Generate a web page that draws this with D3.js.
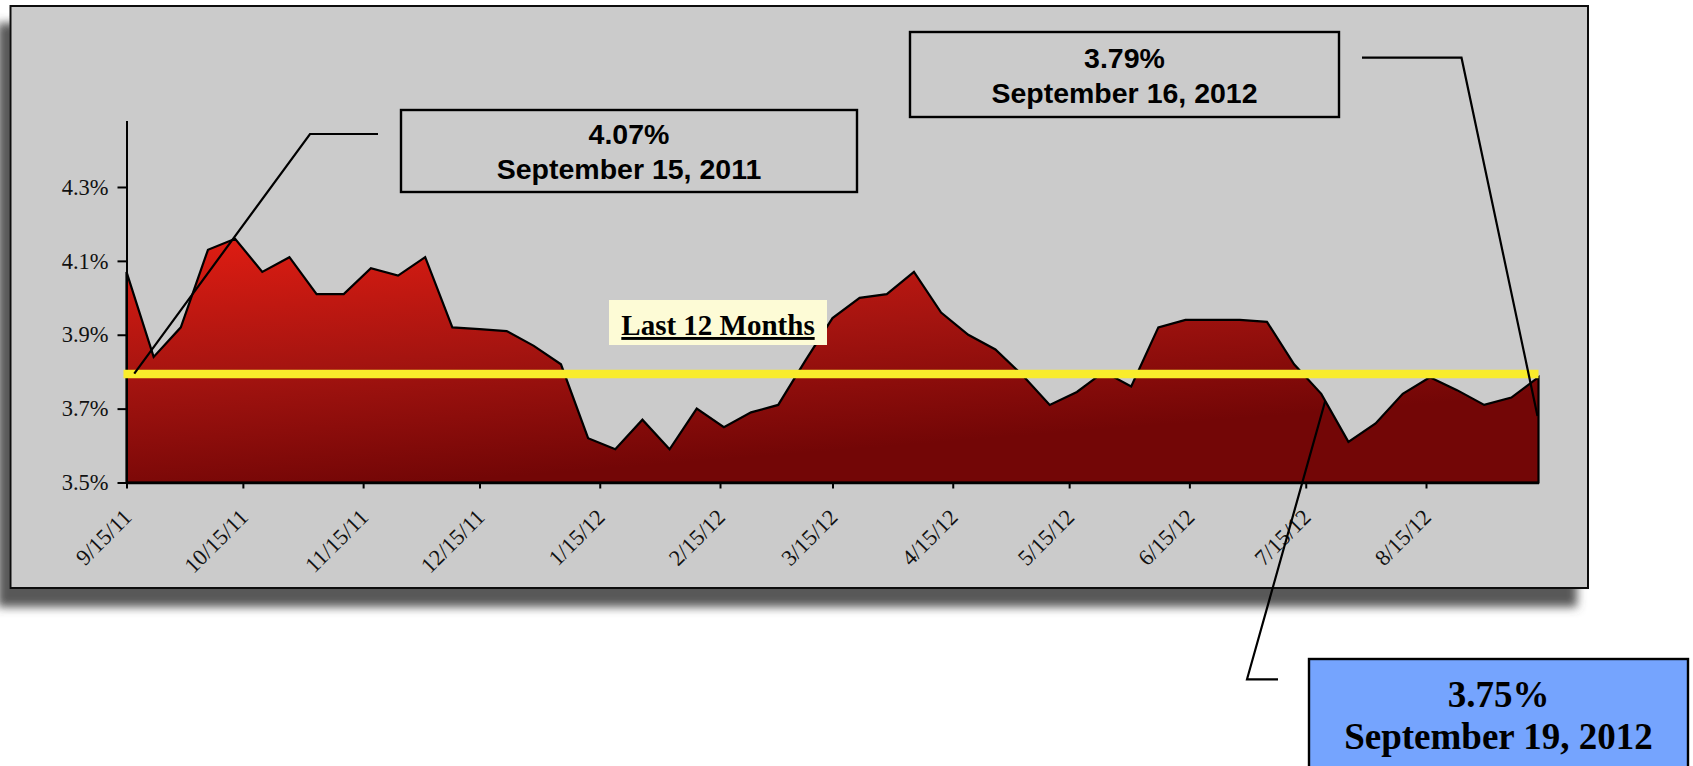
<!DOCTYPE html>
<html>
<head>
<meta charset="utf-8">
<script src="https://cdn.jsdelivr.net/npm/d3@7"></script>
<style>
  html, body { margin: 0; padding: 0; background: #fff; overflow: hidden; }
</style>
</head>
<body>
<div id="canvas"></div>
<script>
'use strict';

// Weekly survey dates (Thursdays) covering the last 12 months.
const weekDates = [
  '2011-09-15', '2011-09-22', '2011-09-29', '2011-10-06', '2011-10-13',
  '2011-10-20', '2011-10-27', '2011-11-03', '2011-11-10', '2011-11-17',
  '2011-11-24', '2011-12-01', '2011-12-08', '2011-12-15', '2011-12-22',
  '2011-12-29', '2012-01-05', '2012-01-12', '2012-01-19', '2012-01-26',
  '2012-02-02', '2012-02-09', '2012-02-16', '2012-02-23', '2012-03-01',
  '2012-03-08', '2012-03-15', '2012-03-22', '2012-03-29', '2012-04-05',
  '2012-04-12', '2012-04-19', '2012-04-26', '2012-05-03', '2012-05-10',
  '2012-05-17', '2012-05-24', '2012-05-31', '2012-06-07', '2012-06-14',
  '2012-06-21', '2012-06-28', '2012-07-05', '2012-07-12', '2012-07-19',
  '2012-07-26', '2012-08-02', '2012-08-09', '2012-08-16', '2012-08-23',
  '2012-08-30', '2012-09-06', '2012-09-13',
];

// Rate in percent for each week above.
const rates = [
  4.07, 3.84, 3.92, 4.13, 4.16, 4.07, 4.11, 4.01, 4.01, 4.08,
  4.06, 4.11, 3.92, 3.915, 3.91, 3.87, 3.82, 3.62, 3.59, 3.67,
  3.59, 3.70, 3.65, 3.69, 3.71, 3.83, 3.945, 4.00, 4.01, 4.07,
  3.96, 3.90, 3.86, 3.79, 3.71, 3.745, 3.80, 3.76, 3.92, 3.94,
  3.94, 3.94, 3.935, 3.82, 3.74, 3.61, 3.66, 3.74, 3.785, 3.75,
  3.71, 3.73, 3.785,
];

const monthTicks = [
  '2011-09-15', '2011-10-15', '2011-11-15', '2011-12-15', '2012-01-15',
  '2012-02-15', '2012-03-15', '2012-04-15', '2012-05-15', '2012-06-15',
  '2012-07-15', '2012-08-15',
];
const rateTicks = [3.5, 3.7, 3.9, 4.1, 4.3];
const rateDomain = [3.5, 4.48];
const yearAverage = 3.794;

const periodLabel = 'Last 12 Months';
const firstCallout = ['4.07%', 'September 15, 2011'];
const lastCallout = ['3.79%', 'September 16, 2012'];
const latestCallout = ['3.75%', 'September 19, 2012'];

const parseDate = d3.utcParse('%Y-%m-%d');

/**
 * Draws the 12 month rate area chart with its callouts.
 */
class RateChart {
  constructor(selector) {
    this.width_ = 1693;
    this.height_ = 766;
    /** @private @const {Object} Plot box inside the grey panel. */
    this.plot_ = {left: 126.5, right: 1538.5, top: 120.5, bottom: 482.5};
    this.data_ = weekDates.map((d, i) => ({date: parseDate(d), rate: rates[i]}));
    this.svg_ = d3.select(selector).append('svg')
        .attr('width', this.width_)
        .attr('height', this.height_);
    this.defs_ = this.svg_.append('defs');
    this.x_ = d3.scaleUtc()
        .domain(d3.extent(this.data_, d => d.date))
        .range([this.plot_.left, this.plot_.right]);
    this.y_ = d3.scaleLinear()
        .domain(rateDomain)
        .range([this.plot_.bottom, this.plot_.top]);
  }

  draw() {
    this.drawPanel_();
    this.drawArea_();
    this.drawAxes_();
    this.drawAverage_();
    this.drawPeriodLabel_();
    this.drawLeaders_();
    this.drawCallouts_();
  }

  drawPanel_() {
    this.defs_.append('filter')
        .attr('id', 'panel-shadow')
        .attr('x', '-3%').attr('y', '-3%')
        .attr('width', '106%').attr('height', '112%')
        .append('feDropShadow')
        .attr('dx', -12)
        .attr('dy', 18)
        .attr('stdDeviation', 5)
        .attr('flood-color', '#4f4f4f')
        .attr('flood-opacity', 0.95);
    this.svg_.append('rect')
        .attr('x', 10.5)
        .attr('y', 6)
        .attr('width', 1577.5)
        .attr('height', 582)
        .attr('fill', '#cbcbcb')
        .attr('stroke', '#111')
        .attr('stroke-width', 2)
        .attr('filter', 'url(#panel-shadow)');
  }

  drawArea_() {
    // Red fades to maroon towards the bottom and, a little, the right.
    const grad = this.defs_.append('linearGradient')
        .attr('id', 'area-fill')
        .attr('gradientUnits', 'userSpaceOnUse')
        .attr('x1', 230).attr('y1', 245)
        .attr('x2', 250).attr('y2', 497);
    grad.append('stop').attr('offset', 0).attr('stop-color', '#db1c12');
    grad.append('stop').attr('offset', 0.5).attr('stop-color', '#a51410');
    grad.append('stop').attr('offset', 1).attr('stop-color', '#730606');

    const area = d3.area()
        .x(d => this.x_(d.date))
        .y0(this.y_(rateDomain[0]))
        .y1(d => this.y_(d.rate));
    this.svg_.append('path')
        .datum(this.data_)
        .attr('d', area)
        .attr('fill', 'url(#area-fill)')
        .attr('stroke', '#000')
        .attr('stroke-width', 2.2)
        .attr('stroke-linejoin', 'miter');
  }

  drawAxes_() {
    const xAxis = d3.axisBottom(this.x_)
        .tickValues(monthTicks.map(parseDate))
        .tickFormat(d3.utcFormat('%-m/%-d/%y'))
        .tickSize(6)
        .tickSizeOuter(0);
    const gx = this.svg_.append('g')
        .attr('transform', `translate(0, ${this.plot_.bottom})`)
        .call(xAxis);
    gx.select('.domain').attr('stroke', '#000').attr('stroke-width', 2.6);
    gx.selectAll('.tick line').attr('stroke', '#000').attr('stroke-width', 2);
    gx.selectAll('.tick text')
        .attr('x', 0).attr('y', 0).attr('dy', 0)
        .attr('text-anchor', 'end')
        .attr('transform', 'translate(6, 36) rotate(-45)')
        .attr('fill', '#111')
        .style('font', '22.5px "Liberation Serif", "Times New Roman", serif');

    const yAxis = d3.axisLeft(this.y_)
        .tickValues(rateTicks)
        .tickFormat(d => d.toFixed(1) + '%')
        .tickSize(9)
        .tickPadding(9)
        .tickSizeOuter(0);
    const gy = this.svg_.append('g')
        .attr('transform', `translate(${this.plot_.left}, 0)`)
        .call(yAxis);
    gy.select('.domain').attr('stroke', '#000').attr('stroke-width', 2);
    gy.selectAll('.tick line').attr('stroke', '#000').attr('stroke-width', 2);
    gy.selectAll('.tick text')
        .attr('fill', '#111')
        .style('font', '22.5px "Liberation Serif", "Times New Roman", serif');
  }

  drawAverage_() {
    this.svg_.append('line')
        .attr('x1', this.plot_.left - 3)
        .attr('x2', this.plot_.right)
        .attr('y1', this.y_(yearAverage))
        .attr('y2', this.y_(yearAverage))
        .attr('stroke', '#f9ec2b')
        .attr('stroke-width', 8.5);
  }

  drawPeriodLabel_() {
    const g = this.svg_.append('g');
    g.append('rect')
        .attr('x', 609).attr('y', 300)
        .attr('width', 218).attr('height', 45)
        .attr('fill', '#fdfbd6');
    g.append('text')
        .attr('x', 718).attr('y', 335)
        .attr('text-anchor', 'middle')
        .attr('text-decoration', 'underline')
        .style('font', 'bold 29px "Liberation Serif", "Times New Roman", serif')
        .text(periodLabel);
  }

  drawLeaders_() {
    const x = this.x_;
    const y = this.y_;
    const leaders = [
      [[x(parseDate('2011-09-17')), y(3.795)], [310, 134], [378, 134]],
      [[1362, 57.7], [1461.5, 57.7], [x(parseDate('2012-09-13')) - 1, y(3.68)]],
      [[x(parseDate('2012-07-20')), y(3.72)], [1247, 679.3], [1278, 679.3]],
    ];
    this.svg_.selectAll('.leader')
        .data(leaders)
        .enter()
        .append('path')
        .attr('class', 'leader')
        .attr('d', d3.line())
        .attr('fill', 'none')
        .attr('stroke', '#000')
        .attr('stroke-width', 2.2);
  }

  drawCallouts_() {
    const sans = 'bold 28.5px "Liberation Sans", Arial, sans-serif';
    const serif = 'bold 37px "Liberation Serif", "Times New Roman", serif';
    const boxes = [
      {x: 401, y: 110, w: 456, h: 82, fill: 'none', font: sans,
        lines: firstCallout, base: [144, 179]},
      {x: 910, y: 32, w: 429, h: 85, fill: 'none', font: sans,
        lines: lastCallout, base: [68, 102.5]},
      {x: 1309, y: 659, w: 379, h: 140, fill: '#75a4fe', font: serif,
        lines: latestCallout, base: [707, 748.5]},
    ];
    boxes.forEach(b => {
      const g = this.svg_.append('g');
      g.append('rect')
          .attr('x', b.x).attr('y', b.y)
          .attr('width', b.w).attr('height', b.h)
          .attr('fill', b.fill)
          .attr('stroke', '#000')
          .attr('stroke-width', 2.4);
      b.lines.forEach((line, i) => {
        g.append('text')
            .attr('x', b.x + b.w / 2)
            .attr('y', b.base[i])
            .attr('text-anchor', 'middle')
            .attr('fill', '#000')
            .style('font', b.font)
            .text(line);
      });
    });
  }
}

new RateChart('#canvas').draw();
</script>
</body>
</html>
